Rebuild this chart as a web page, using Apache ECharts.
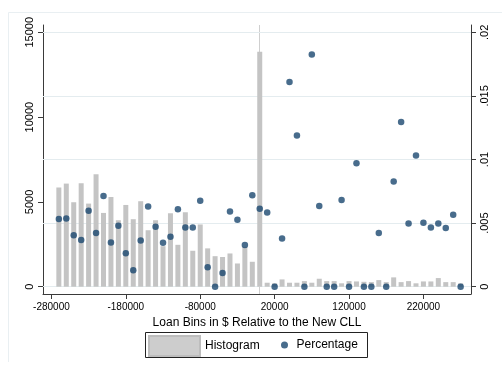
<!DOCTYPE html>
<html>
<head>
<meta charset="utf-8">
<script src="https://cdn.jsdelivr.net/npm/echarts@6/dist/echarts.min.js"></script>
<style>
  html, body { margin: 0; padding: 0; background: #ffffff; }
  #chart { width: 502px; height: 367px; }
</style>
</head>
<body>
<div id="chart"></div>
<script>
// Loan bins (centre of each $10,000 bin, relative to the new CLL)
const binCenters = [
  -270000, -260000, -250000, -240000, -230000, -220000, -210000, -200000, -190000, -180000,
  -170000, -160000, -150000, -140000, -130000, -120000, -110000, -100000, -90000, -80000,
  -70000, -60000, -50000, -40000, -30000, -20000, -10000, 0,
  10000, 20000, 30000, 40000, 50000, 60000, 70000, 80000, 90000, 100000,
  110000, 120000, 130000, 140000, 150000, 160000, 170000, 180000, 190000, 200000,
  210000, 220000, 230000, 240000, 250000, 260000, 270000
];

// Number of loans in each bin (histogram, left axis)
const histCounts = [
  5850, 6080, 4980, 6100, 4900, 6630, 4350, 5290, 3920, 4820,
  3980, 5040, 3330, 3920, 2390, 4330, 2470, 4390, 2120, 3670,
  2260, 1800, 1750, 1960, 1370, 2350, 1470, 13850,
  235, 200, 430, 235, 235, 330, 235, 470, 330, 330,
  200, 330, 310, 290, 270, 390, 270, 550, 270, 330,
  200, 310, 310, 510, 270, 270, 200
];

// Share in each bin (right axis)
const percentShare = [
  0.00532, 0.00537, 0.00405, 0.00368, 0.00597, 0.00423, 0.00713, 0.00347, 0.00479, 0.00263,
  0.00129, 0.00363, 0.00631, 0.00471, 0.00345, 0.00392, 0.00608, 0.00466, 0.00466, 0.00676,
  0.00153, 0, 0.00108, 0.00592, 0.00526, 0.00327, 0.00718, 0.00613,
  0.00584, 0, 0.00379, 0.0161, 0.01189, 0, 0.01826, 0.00634, 0, 0,
  0.00682, 0, 0.0097, 0, 0, 0.00423, 0, 0.00828, 0.01294, 0.00497,
  0.01031, 0.00502, 0.00466, 0.00497, 0.00461, 0.00565, 0
];

const xTicks = [-280000, -180000, -80000, 20000, 120000, 220000];
const countTicks = [0, 5000, 10000, 15000];
const shareTicks = [0, 0.005, 0.01, 0.015, 0.02];

const FONT = '"Liberation Sans", Arial, Helvetica, sans-serif';
const AXIS_COLOR = '#3a3a3a';
const GRID_COLOR = '#e4ecef';

const plain = v => String(v);
const shareLabel = v => (v === 0 ? '0' : String(v).replace(/^0/, ''));

const chart = echarts.init(document.getElementById('chart'), null, { renderer: 'canvas' });

chart.setOption({
  backgroundColor: '#ffffff',
  animation: false,
  textStyle: { fontFamily: FONT },
  grid: { left: 43, right: 31, top: 25, bottom: 73, containLabel: false },
  graphic: [
    // outer region edge
    { type: 'line', silent: true, shape: { x1: 8.5, y1: 12.5, x2: 502, y2: 12.5 },
      style: { stroke: '#e9eff2', lineWidth: 1 } },
    { type: 'line', silent: true, shape: { x1: 8.5, y1: 12.5, x2: 8.5, y2: 362 },
      style: { stroke: '#e9eff2', lineWidth: 1 } },
    // legend box
    { type: 'rect', silent: true, shape: { x: 145.5, y: 332.5, width: 222, height: 25 },
      style: { fill: 'none', stroke: '#222', lineWidth: 1 } }
  ],
  legend: [
    {
      data: ['Histogram'],
      left: 148, top: 335, padding: 0,
      itemWidth: 51, itemHeight: 20,
      icon: 'rect',
      itemStyle: { color: '#cdcdcd', borderColor: '#bdbdbd', borderWidth: 2 },
      textStyle: { fontSize: 12, color: '#000', fontFamily: FONT }
    },
    {
      data: ['Percentage'],
      left: 281, top: 339, padding: 0,
      itemWidth: 14, itemHeight: 7,
      icon: 'circle',
      textStyle: { fontSize: 12, color: '#000', fontFamily: FONT }
    }
  ],
  xAxis: {
    type: 'value',
    min: -291300, max: 283930,
    name: 'Loan Bins in $ Relative to the New CLL',
    nameLocation: 'middle', nameGap: 19,
    nameTextStyle: { fontSize: 12, color: '#000', fontFamily: FONT },
    axisLine: { show: true, onZero: false, lineStyle: { color: AXIS_COLOR, width: 1 } },
    axisTick: { show: true, customValues: xTicks, length: 5, lineStyle: { color: AXIS_COLOR } },
    axisLabel: { customValues: xTicks, formatter: plain, fontSize: 10, color: '#000', margin: 8, fontFamily: FONT },
    splitLine: { show: false }
  },
  yAxis: [
    {
      type: 'value', position: 'left',
      min: -430, max: 15430,
      axisLine: { show: true, onZero: false, lineStyle: { color: AXIS_COLOR, width: 1 } },
      axisTick: { show: true, customValues: countTicks, length: 5, lineStyle: { color: AXIS_COLOR } },
      axisLabel: { customValues: countTicks, formatter: plain, rotate: 90, fontSize: 11, color: '#000', margin: 8, fontFamily: FONT },
      splitLine: { show: false }
    },
    {
      type: 'value', position: 'right',
      min: -0.000573, max: 0.020573,
      axisLine: { show: true, onZero: false, lineStyle: { color: AXIS_COLOR, width: 1 } },
      axisTick: { show: true, customValues: shareTicks, length: 5, lineStyle: { color: AXIS_COLOR } },
      axisLabel: { customValues: shareTicks, formatter: shareLabel, rotate: 90, fontSize: 11, color: '#000', margin: 8, fontFamily: FONT },
      splitLine: { show: false }
    }
  ],
  series: [
    {
      name: 'Histogram',
      type: 'bar',
      xAxisIndex: 0, yAxisIndex: 0,
      barWidth: 5,
      itemStyle: { color: '#c4c4c4' },
      data: binCenters.map((x, i) => [x, histCounts[i]]),
      // reference line at the new CLL
      markLine: {
        silent: true, z: 1, precision: 6, symbol: 'none', label: { show: false },
        emphasis: { disabled: true },
        lineStyle: { color: '#cfcfcf', width: 1, type: 'solid' },
        data: [{ xAxis: 0 }]
      }
    },
    {
      name: 'Percentage',
      type: 'scatter',
      xAxisIndex: 0, yAxisIndex: 1,
      symbol: 'circle', symbolSize: 6.5,
      itemStyle: { color: '#1a476f' },
      data: binCenters.map((x, i) => [x, percentShare[i]]),
      // horizontal grid at the right-axis ticks
      markLine: {
        silent: true, z: 1, precision: 6, symbol: 'none', label: { show: false },
        emphasis: { disabled: true },
        lineStyle: { color: GRID_COLOR, width: 1, type: 'solid' },
        data: shareTicks.map(v => ({ yAxis: v }))
      }
    }
  ]
});
</script>
</body>
</html>
